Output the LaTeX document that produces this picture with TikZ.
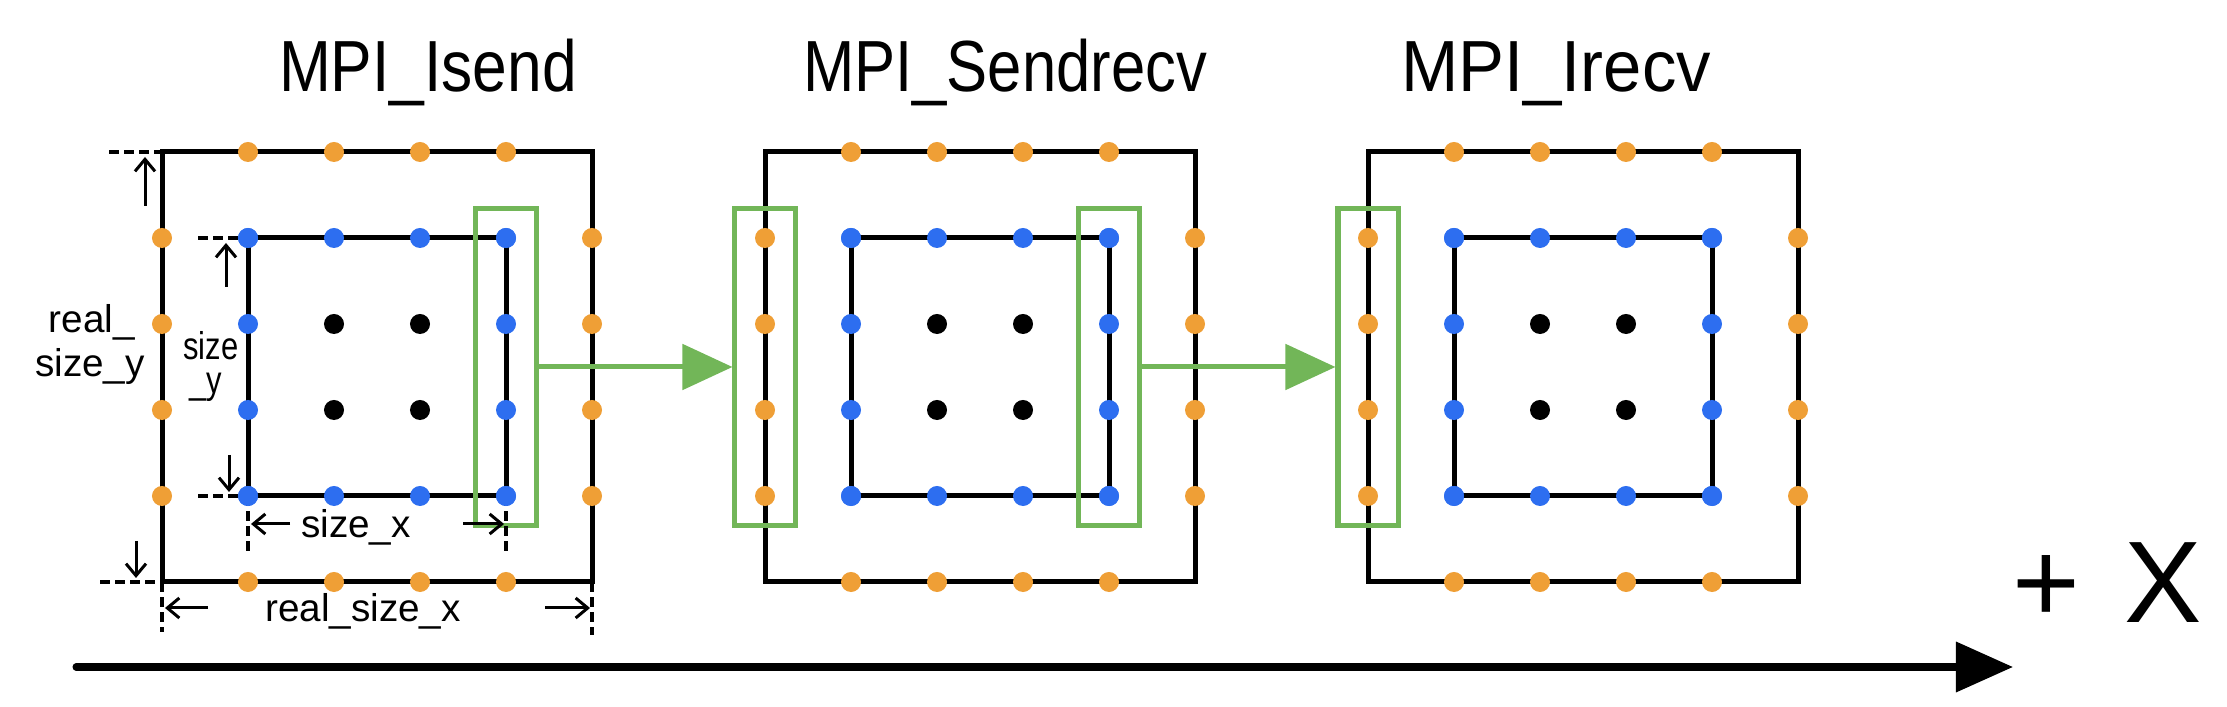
\documentclass[tikz,border=0pt]{standalone}
\usepackage{fontspec}
\setmainfont{Liberation Sans}
\usetikzlibrary{arrows.meta}
\pgfdeclarelayer{bg}
\pgfdeclarelayer{fg}
\pgfsetlayers{bg,main,fg}
\definecolor{dotorange}{RGB}{239,159,54}
\definecolor{dotblue}{RGB}{45,110,240}
\definecolor{boxgreen}{RGB}{114,182,88}
\begin{document}
\begin{tikzpicture}[x=0.01cm,y=-0.01cm,
  boxline/.style={line width=0.05cm},
  gbox/.style={draw=boxgreen, line width=0.05cm, minimum width=0.6cm, minimum height=3.16cm, inner sep=0pt},
  garrow/.style={draw=boxgreen, line width=0.05cm, -{Triangle[length=0.5cm,width=0.45cm]}},
  axisarrow/.style={line width=0.07cm, line cap=round, -{Triangle[length=0.57cm,width=0.49cm]}},
  dimarrow/.style={line width=0.03cm, -{Straight Barb[length=0.12cm,width=0.2cm]}},
  dimdash/.style={line width=0.045cm, dash pattern=on 0.1cm off 0.05cm},
  title/.style={font=\fontsize{20.6pt}{24pt}\selectfont, inner sep=0pt, anchor=base},
  dimtext/.style={font=\fontsize{11pt}{13pt}\selectfont, inner sep=0pt, anchor=base},
  odot/.style={fill=dotorange},
  bdot/.style={fill=dotblue},
  kdot/.style={fill=black}]
\useasboundingbox (0,0) rectangle (2227,707);

% titles
\node[title] (t0) at (428,92) {\scalebox{0.86}[1]{MPI\_Isend}};
\node[title] (t1) at (1005,92) {\scalebox{0.85}[1]{MPI\_Sendrecv}};
\node[title] (t2) at (1556,92) {\scalebox{0.95}[1]{MPI\_Irecv}};

% boxes and dots
\foreach \k in {0,1,2} {
  \pgfmathsetmacro\dx{603*\k}
  \begin{pgfonlayer}{bg}
    \draw[boxline] (162+\dx,152) rectangle (592+\dx,582);
    \draw[boxline] (248+\dx,238) rectangle (506+\dx,496);
  \end{pgfonlayer}
  \begin{pgfonlayer}{fg}
    \foreach \i in {0,1,2,3} {
      \fill[odot] (248+86*\i+\dx,152) circle[radius=0.1cm];
      \fill[odot] (248+86*\i+\dx,582) circle[radius=0.1cm];
      \fill[odot] (162+\dx,238+86*\i) circle[radius=0.1cm];
      \fill[odot] (592+\dx,238+86*\i) circle[radius=0.1cm];
      \fill[bdot] (248+86*\i+\dx,238) circle[radius=0.1cm];
      \fill[bdot] (248+86*\i+\dx,496) circle[radius=0.1cm];
      \fill[bdot] (248+\dx,238+86*\i) circle[radius=0.1cm];
      \fill[bdot] (506+\dx,238+86*\i) circle[radius=0.1cm];
    }
    \foreach \i in {1,2} {
      \foreach \j in {1,2} {
        \fill[kdot] (248+86*\i+\dx,238+86*\j) circle[radius=0.1cm];
      }
    }
  \end{pgfonlayer}
}

% green halo boxes and transfers
\node[gbox] (g0) at (506,367) {};
\node[gbox] (g1l) at (765,367) {};
\node[gbox] (g1r) at (1109,367) {};
\node[gbox] (g2l) at (1368,367) {};
\draw[garrow] (g0.east) -- (g1l.west);
\draw[garrow] (g1r.east) -- (g2l.west);

% dimension annotations
\draw[dimdash] (109,152) -- (162,152);
\draw[dimdash] (198,238) -- (248,238);
\draw[dimdash] (198,496) -- (248,496);
\draw[dimdash] (100,582) -- (162,582);
\draw[dimdash] (248,496) -- (248,552);
\draw[dimdash] (506,496) -- (506,552);
\draw[dimdash] (162,582) -- (162,632);
\draw[dimdash] (592,582) -- (592,635);

\draw[dimarrow] (145,206) coordinate (ry1) -- (145,157) coordinate (ry1e);
\draw[dimarrow] (136,541) coordinate (ry2) -- (136,578) coordinate (ry2e);
\draw[dimarrow] (226,287) coordinate (sy1) -- (226,243) coordinate (sy1e);
\draw[dimarrow] (229,455) coordinate (sy2) -- (229,492) coordinate (sy2e);
\draw[dimarrow] (290,524) coordinate (sx1) -- (251,524) coordinate (sx1e);
\draw[dimarrow] (463,524) coordinate (sx2) -- (504,524) coordinate (sx2e);
\draw[dimarrow] (208,608) coordinate (rx1) -- (165,608) coordinate (rx1e);
\draw[dimarrow] (545,608) coordinate (rx2) -- (590,608) coordinate (rx2e);

\node[dimtext] (lry1) at (92,333) {real\_};
\node[dimtext] (lry2) at (90,377) {size\_y};
\node[dimtext] (lsy1) at (211,360) {\scalebox{0.8}[1]{size}};
\node[dimtext] (lsy2) at (206,394) {\scalebox{0.8}[1]{\_y}};
\node[dimtext] (lsx) at (356,538) {size\_x};
\node[dimtext] (lrx) at (363,622) {real\_size\_x};

% axis
\coordinate (xs) at (76,667);
\coordinate (xe) at (2013,667);
\draw[axisarrow] (xs) -- (xe);
\node[font=\fontsize{33pt}{36pt}\selectfont, inner sep=0pt, anchor=base west] (plusx) at (2012,623) {+\hspace{0.38em}X};
\end{tikzpicture}
\end{document}
